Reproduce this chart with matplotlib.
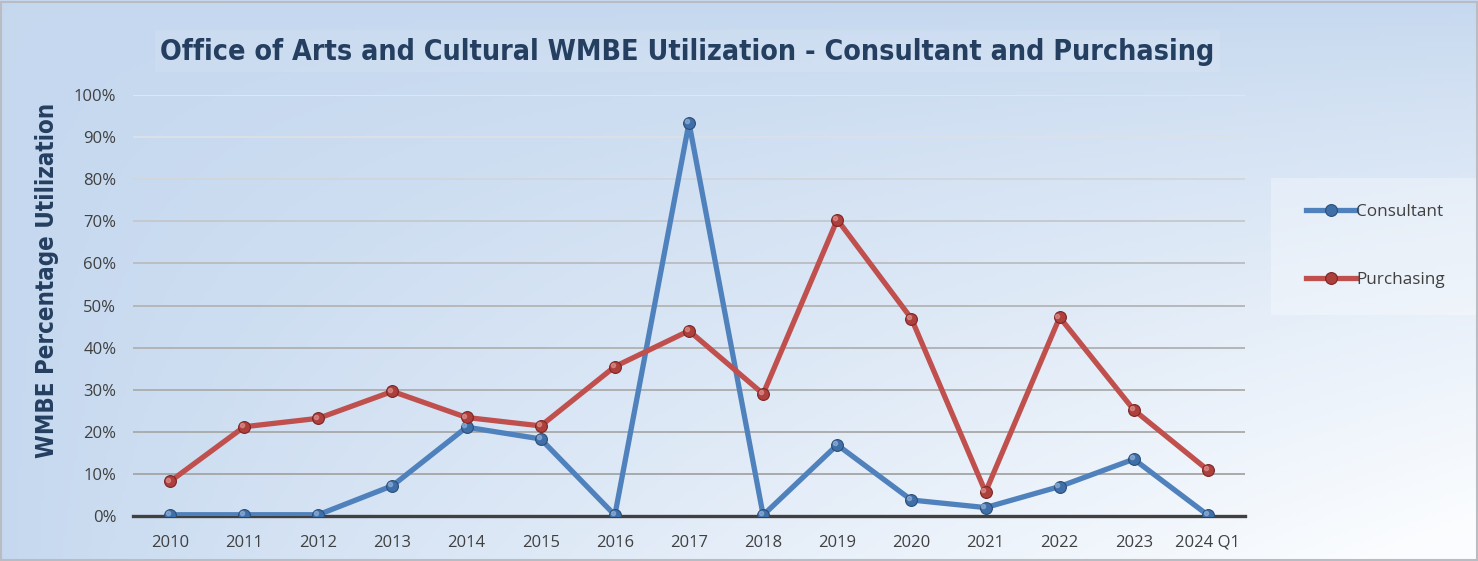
import numpy as np
import matplotlib
matplotlib.use("Agg")
import matplotlib.pyplot as plt
from matplotlib.patches import Rectangle
from matplotlib.ticker import PercentFormatter

years = ['2010', '2011', '2012', '2013', '2014', '2015', '2016', '2017',
         '2018', '2019', '2020', '2021', '2022', '2023', '2024 Q1']
consultant = [0.3, 0.3, 0.3, 7.2, 21.1, 18.3, 0.2, 93.4,
              0.2, 16.9, 3.8, 2.0, 7.0, 13.5, 0.2]
purchasing = [8.2, 21.2, 23.2, 29.6, 23.4, 21.4, 35.5, 44.0,
              29.0, 70.4, 46.9, 5.7, 47.2, 25.2, 10.9]

fig = plt.figure(figsize=(14.78, 5.61), dpi=100)

# background gradient (blue top/left -> white bottom right)
bg = fig.add_axes([0, 0, 1, 1], zorder=-10)
W, H = 400, 160
u = np.linspace(0, 1, W)[None, :]
v = np.linspace(0, 1, H)[:, None]
t = np.clip((u * v) ** 0.8 * 1.05, 0, 1)
c0 = np.array([0.773, 0.847, 0.937])
c1 = np.array([0.985, 0.992, 1.0])
img = c0[None, None, :] * (1 - t[..., None]) + c1[None, None, :] * t[..., None]
bg.imshow(img, aspect='auto', extent=[0, 1, 0, 1], origin='upper')
bg.add_patch(Rectangle((0.001, 0.002), 0.998, 0.995, fill=False,
                       edgecolor='#b9bcc2', linewidth=1.5, transform=bg.transAxes))
# title box
bg.add_patch(Rectangle((155 / 1478, 1 - 72 / 561), 1065 / 1478, 42 / 561,
                       facecolor='white', alpha=0.1, edgecolor='none',
                       transform=bg.transAxes))
# legend box
bg.add_patch(Rectangle((1271 / 1478, 1 - 315 / 561), 205 / 1478, 137 / 561,
                       facecolor='white', alpha=0.3, edgecolor='none',
                       transform=bg.transAxes))
bg.set_xlim(0, 1)
bg.set_ylim(0, 1)
bg.axis('off')

ax = fig.add_axes([133 / 1478, 45 / 561, 1112 / 1478, 421 / 561])
ax.set_facecolor('none')

x = np.arange(len(years))
blue = '#4f81bd'
red = '#c0504d'
l1, = ax.plot(x, np.array(consultant) / 100, color=blue, lw=3.8, marker='o',
              ms=8.5, mfc='#3f6fa8', mec='#2c4d75', mew=0.8, label='Consultant',
              solid_joinstyle='miter', zorder=3)
l2, = ax.plot(x, np.array(purchasing) / 100, color=red, lw=3.8, marker='o',
              ms=8.5, mfc='#ad3f3c', mec='#7a2624', mew=0.8, label='Purchasing',
              solid_joinstyle='miter', zorder=3)
# small highlights on the markers
ax.plot(x - 0.03, np.array(consultant) / 100 + 0.004, 'o', ms=3, color='#9ab8de',
        alpha=0.6, zorder=4)
ax.plot(x - 0.03, np.array(purchasing) / 100 + 0.004, 'o', ms=3, color='#e39a98',
        alpha=0.6, zorder=4)

ax.set_xlim(-0.5, len(years) - 0.5)
ax.set_ylim(0, 1)
ax.set_yticks(np.arange(0, 1.01, 0.1))
ax.yaxis.set_major_formatter(PercentFormatter(1.0, decimals=0))
ax.set_xticks(x)
ax.set_xticklabels(years)

for s in ['top', 'right', 'left']:
    ax.spines[s].set_visible(False)
ax.spines['bottom'].set_color('#404040')
ax.spines['bottom'].set_linewidth(2.4)
ax.spines['bottom'].set_zorder(2)

ax.grid(axis='y', linewidth=1.3)
ax.set_axisbelow(True)
grid_cols = ['#9a9a9a', '#a4a4a4', '#a8a8a8', '#acacac', '#b0b0b0', '#b4b4b4',
             '#babcbf', '#c4c8cd', '#d2d6dc', '#dde1e7', '#e4e7ec']
for gl, c in zip(ax.get_ygridlines(), grid_cols):
    gl.set_color(c)

ax.tick_params(axis='both', length=0, labelsize=12, labelcolor='#404040')
ax.tick_params(axis='y', pad=12)
ax.tick_params(axis='x', pad=13.5)
for lab in ax.get_xticklabels() + ax.get_yticklabels():
    lab.set_family('Open Sans')

fig.text(687 / 1478, 1 - 52 / 561,
         'Office of Arts and Cultural WMBE Utilization - Consultant and Purchasing',
         ha='center', va='center', fontsize=20.5, fontweight='heavy',
         fontstretch='condensed', color='#243f60', family='DejaVu Sans')
fig.text(47 / 1478, 1 - 280 / 561, 'WMBE Percentage Utilization', rotation=90,
         ha='center', va='center', fontsize=17.3, fontweight='heavy',
         fontstretch='condensed', color='#243f60', family='DejaVu Sans')

leg = fig.legend(handles=[l1, l2], loc='center left',
                 bbox_to_anchor=(1291 / 1478, 1 - 246 / 561), frameon=False,
                 labelspacing=3.1, handlelength=2.9,
                 handletextpad=0.0, labelcolor='#404040',
                 prop={'family': 'Open Sans', 'size': 12.3})

fig.savefig('out.png', dpi=100)
